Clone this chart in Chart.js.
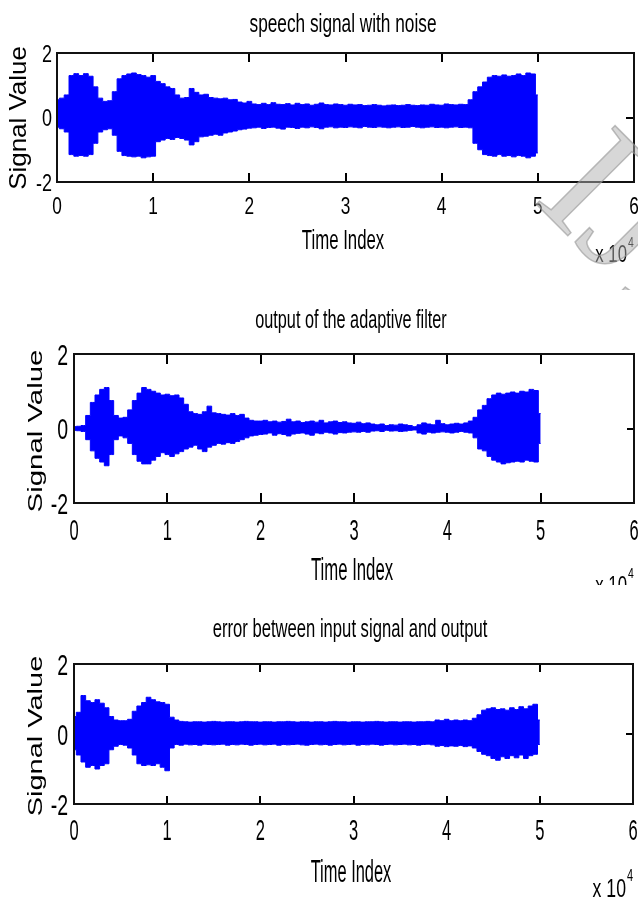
<!DOCTYPE html>
<html>
<head>
<meta charset="utf-8">
<script src="https://cdn.jsdelivr.net/npm/chart.js@4.4.1/dist/chart.umd.min.js"></script>
<style>
  html, body { margin: 0; padding: 0; background: #fff; }
  body { width: 638px; height: 899px; position: relative; overflow: hidden; }
  canvas { position: absolute; left: 0; }
</style>
</head>
<body>
<canvas id="speech" width="638" height="290" style="top:0px"></canvas>
<canvas id="output" width="638" height="295" style="top:290px"></canvas>
<canvas id="error" width="638" height="314" style="top:585px"></canvas>
<script>
// time index of every envelope sample (the signal runs to 5 x 10^4)
const timeIndex = [0,500,1000,1500,2000,2500,3000,3500,4000,4500,5000,5500,6000,6500,7000,7500,8000,8500,9000,9500,
  10000,10500,11000,11500,12000,12500,13000,13500,14000,14500,15000,15500,16000,16500,17000,17500,18000,18500,19000,19500,
  20000,20500,21000,21500,22000,22500,23000,23500,24000,24500,25000,25500,26000,26500,27000,27500,28000,28500,29000,29500,
  30000,30500,31000,31500,32000,32500,33000,33500,34000,34500,35000,35500,36000,36500,37000,37500,38000,38500,39000,39500,
  40000,40500,41000,41500,42000,42500,43000,43500,44000,44500,45000,45500,46000,46500,47000,47500,48000,48500,49000,49500,50000];

// envelopes (max / min)
const speechUpper = [0.55,0.6,0.7,1.3,1.36,1.3,1.36,1.28,0.95,0.6,0.5,
  0.52,0.8,1.2,1.3,1.35,1.38,1.33,1.3,1.25,1.3,
  1.12,1.05,0.95,0.9,0.7,0.6,0.62,0.9,0.78,0.7,
  0.72,0.62,0.6,0.58,0.6,0.55,0.56,0.48,0.45,0.5,
  0.42,0.4,0.44,0.4,0.46,0.41,0.4,0.43,0.39,0.44,
  0.4,0.42,0.38,0.41,0.45,0.4,0.39,0.42,0.4,0.38,
  0.41,0.39,0.4,0.37,0.38,0.4,0.38,0.36,0.38,0.39,
  0.37,0.38,0.4,0.38,0.37,0.39,0.38,0.41,0.39,0.38,
  0.42,0.4,0.39,0.41,0.4,
  0.55,0.8,0.95,1.1,1.25,1.3,1.28,1.32,1.28,1.3,1.35,1.3,1.38,1.35,0.7];
const speechLower = [-0.3,-0.35,-0.45,-1.15,-1.2,-1.18,-1.2,-1.15,-0.8,-0.45,-0.38,
  -0.35,-0.55,-1.05,-1.18,-1.2,-1.22,-1.2,-1.25,-1.22,-1.2,
  -0.75,-0.7,-0.65,-0.68,-0.62,-0.65,-0.7,-0.85,-0.75,-0.6,
  -0.58,-0.55,-0.52,-0.55,-0.48,-0.45,-0.42,-0.38,-0.36,-0.33,
  -0.32,-0.3,-0.34,-0.31,-0.3,-0.33,-0.36,-0.3,-0.31,-0.34,
  -0.3,-0.32,-0.29,-0.31,-0.35,-0.3,-0.29,-0.32,-0.3,-0.31,
  -0.29,-0.3,-0.32,-0.28,-0.3,-0.31,-0.29,-0.3,-0.32,-0.3,
  -0.29,-0.31,-0.3,-0.28,-0.3,-0.32,-0.3,-0.29,-0.31,-0.3,
  -0.32,-0.3,-0.29,-0.31,-0.3,
  -0.32,-0.8,-1.0,-1.15,-1.18,-1.2,-1.15,-1.2,-1.18,-1.22,-1.18,-1.2,-1.25,-1.2,-1.1];

const outputUpper = [0.05,0.06,0.08,0.35,0.7,0.9,1.05,1.1,0.75,0.35,0.28,
  0.3,0.5,0.75,0.95,1.1,1.05,1.0,0.95,0.9,0.92,
  0.88,0.9,0.82,0.65,0.45,0.4,0.38,0.45,0.6,0.42,
  0.4,0.38,0.36,0.4,0.35,0.38,0.28,0.22,0.2,0.2,
  0.22,0.18,0.2,0.17,0.19,0.25,0.18,0.2,0.16,0.18,
  0.2,0.17,0.22,0.15,0.18,0.2,0.16,0.18,0.15,0.14,
  0.17,0.13,0.15,0.12,0.1,0.12,0.08,0.1,0.09,0.12,
  0.1,0.08,0.05,0.1,0.15,0.12,0.1,0.22,0.13,0.1,
  0.12,0.14,0.12,0.15,0.2,
  0.3,0.5,0.62,0.8,0.9,0.95,0.92,0.95,0.98,0.95,1.0,0.98,1.05,1.02,0.4];
const outputLower = [-0.05,-0.06,-0.08,-0.3,-0.6,-0.8,-0.9,-1.0,-0.7,-0.3,-0.2,
  -0.25,-0.4,-0.7,-0.88,-0.95,-0.95,-0.85,-0.75,-0.65,-0.7,
  -0.75,-0.68,-0.62,-0.55,-0.5,-0.45,-0.55,-0.62,-0.5,-0.45,
  -0.4,-0.42,-0.38,-0.4,-0.35,-0.3,-0.25,-0.2,-0.18,-0.16,
  -0.15,-0.12,-0.18,-0.14,-0.16,-0.2,-0.15,-0.13,-0.12,-0.15,
  -0.18,-0.12,-0.14,-0.1,-0.12,-0.15,-0.11,-0.12,-0.1,-0.09,
  -0.1,-0.08,-0.1,-0.07,-0.06,-0.08,-0.05,-0.07,-0.06,-0.08,
  -0.07,-0.05,-0.04,-0.12,-0.15,-0.1,-0.12,-0.1,-0.09,-0.1,
  -0.12,-0.1,-0.08,-0.1,-0.12,
  -0.25,-0.55,-0.6,-0.75,-0.85,-0.9,-0.95,-0.92,-0.9,-0.88,-0.9,-0.85,-0.88,-0.9,-0.4];

const errorUpper = [0.5,0.62,1.1,0.95,0.9,0.98,0.88,0.75,0.5,0.4,0.38,
  0.38,0.42,0.65,0.8,0.9,1.05,0.98,0.92,0.9,0.85,
  0.48,0.4,0.36,0.35,0.34,0.35,0.35,0.34,0.35,0.36,
  0.35,0.34,0.35,0.35,0.34,0.35,0.36,0.35,0.35,0.34,
  0.35,0.35,0.34,0.35,0.35,0.36,0.35,0.34,0.35,0.35,
  0.34,0.35,0.35,0.34,0.35,0.36,0.35,0.35,0.34,0.35,
  0.35,0.34,0.35,0.35,0.36,0.35,0.34,0.35,0.35,0.34,
  0.35,0.35,0.34,0.35,0.35,0.36,0.35,
  0.4,0.38,0.42,0.38,0.4,0.38,0.4,0.38,
  0.45,0.55,0.68,0.72,0.75,0.7,0.72,0.68,0.75,0.7,0.78,0.72,0.8,0.85,0.4];
const errorLower = [-0.45,-0.6,-0.8,-0.95,-0.9,-1.0,-0.9,-0.85,-0.45,-0.35,-0.3,
  -0.32,-0.4,-0.6,-0.85,-0.9,-0.88,-0.9,-0.85,-0.95,-1.05,
  -0.4,-0.3,-0.32,-0.29,-0.31,-0.3,-0.32,-0.29,-0.3,-0.31,
  -0.3,-0.29,-0.32,-0.3,-0.31,-0.29,-0.3,-0.32,-0.3,-0.29,
  -0.31,-0.3,-0.29,-0.32,-0.3,-0.31,-0.3,-0.29,-0.31,-0.32,
  -0.3,-0.29,-0.31,-0.3,-0.32,-0.3,-0.29,-0.31,-0.3,-0.29,
  -0.32,-0.3,-0.31,-0.29,-0.3,-0.32,-0.3,-0.29,-0.31,-0.3,
  -0.29,-0.31,-0.3,-0.32,-0.3,-0.29,-0.31,
  -0.35,-0.33,-0.36,-0.34,-0.35,-0.33,-0.36,-0.34,
  -0.4,-0.5,-0.58,-0.62,-0.7,-0.75,-0.65,-0.7,-0.62,-0.68,-0.6,-0.7,-0.62,-0.58,-0.3];

const xTickLabels = [0, 1, 2, 3, 4, 5, 6]; // x 10^4
const yTickLabels = [-2, 0, 2];
const xScaleFactor = 10000;

const SANS = '"Liberation Sans", Arial, sans-serif';

function txt(ctx, s, x, y, size, sx, align, rot) {
  ctx.save();
  ctx.translate(x, y);
  if (rot) ctx.rotate(rot);
  ctx.scale(sx, 1);
  ctx.font = size + 'px ' + SANS;
  ctx.textAlign = align || 'center';
  ctx.textBaseline = 'alphabetic';
  ctx.fillStyle = '#000';
  ctx.fillText(s, 0, 0);
  ctx.restore();
}

// MATLAB-like box, inward ticks and labels
const matlabAxes = {
  id: 'matlabAxes',
  beforeDatasetsDraw(chart, args, o) {
    const { ctx, chartArea: a, scales: { x, y } } = chart;
    ctx.save();
    ctx.strokeStyle = '#000';
    ctx.lineWidth = 2;
    ctx.beginPath();
    xTickLabels.forEach((t) => {
      const px = Math.round(x.getPixelForValue(t * xScaleFactor));
      ctx.moveTo(px, a.top);
      ctx.lineTo(px, a.top + o.tick);
      ctx.moveTo(px, a.bottom);
      ctx.lineTo(px, a.bottom - o.tick);
    });
    yTickLabels.forEach((t) => {
      const py = Math.round(y.getPixelForValue(t));
      ctx.moveTo(a.left, py);
      ctx.lineTo(a.left + o.ytick, py);
      ctx.moveTo(a.right, py);
      ctx.lineTo(a.right - o.ytick, py);
    });
    ctx.stroke();
    ctx.restore();
  },
  afterDraw(chart, args, o) {
    const { ctx, chartArea: a, scales: { x, y } } = chart;
    ctx.save();
    ctx.strokeStyle = '#111';
    ctx.lineWidth = 2;
    ctx.strokeRect(a.left, a.top, a.right - a.left, a.bottom - a.top);
    ctx.restore();

    xTickLabels.forEach((t) => {
      txt(ctx, String(t), x.getPixelForValue(t * xScaleFactor), o.xtY, o.tickSize, o.xtSx, 'center');
    });
    yTickLabels.forEach((t) => {
      txt(ctx, String(t), a.left - o.ytPad, y.getPixelForValue(t) + 0.36 * o.tickSize, o.tickSize, o.ytSx, 'right');
    });
    txt(ctx, o.title, o.titleX, o.titleY, o.titleSize, o.titleSx, 'center');
    txt(ctx, 'Time Index', o.xlX, o.xlY, o.xlSize, o.xlSx, 'center');
    txt(ctx, 'Signal Value', o.ylX + 0.36 * o.ylSize, o.ylY, o.ylSize, o.ylSx, 'center', -Math.PI / 2);
    txt(ctx, 'x 10', o.expX, o.expY, o.expSize, o.expSx, 'right');
    txt(ctx, '4', o.expX + 1, o.expY - o.expSize * 0.62, o.expSize * 0.62, o.expSx, 'left');

    // grey journal watermark over the top panel's right edge
    if (o.mark) {
      ctx.save();
      ctx.translate(o.mark.x, o.mark.y);
      ctx.rotate(Math.PI / 4);
      ctx.font = o.mark.size + 'px "Liberation Serif", "Times New Roman", serif';
      ctx.textAlign = 'left';
      ctx.textBaseline = 'alphabetic';
      ctx.fillStyle = 'rgba(175,175,175,0.5)';
      ctx.fillText(o.mark.text, 0, 0);
      ctx.lineWidth = 1.5;
      ctx.strokeStyle = 'rgba(150,150,150,0.6)';
      ctx.strokeText(o.mark.text, 0, 0);
      ctx.restore();
    }
  }
};

function makeChart(id, upper, lower, pad, opts) {
  const toPts = (arr) => arr.map((v, i) => ({ x: timeIndex[i], y: v }));
  const line = { borderColor: '#0000ff', backgroundColor: '#0000ff', borderWidth: 1, pointRadius: 0, stepped: 'middle' };
  return new Chart(document.getElementById(id), {
    type: 'line',
    data: {
      datasets: [
        Object.assign({ data: toPts(upper), fill: '+1' }, line),
        Object.assign({ data: toPts(lower), fill: false }, line)
      ]
    },
    options: {
      responsive: false,
      animation: false,
      devicePixelRatio: 1,
      layout: { padding: pad },
      scales: {
        x: { type: 'linear', min: 0, max: 60000, display: false },
        y: { type: 'linear', min: -2, max: 2, display: false }
      },
      plugins: {
        legend: { display: false },
        tooltip: { enabled: false },
        matlabAxes: opts
      }
    },
    plugins: [matlabAxes]
  });
}

makeChart('speech', speechUpper, speechLower, { left: 57, right: 4, top: 53, bottom: 108 }, {
  title: 'speech signal with noise', titleX: 343, titleY: 32, titleSize: 25, titleSx: 0.69,
  tick: 9, ytick: 8, tickSize: 24, xtY: 214, xtSx: 0.72, ytPad: 5, ytSx: 0.75,
  xlX: 343, xlY: 249, xlSize: 28, xlSx: 0.6,
  ylX: 17, ylY: 118, ylSize: 24, ylSx: 1.08,
  expX: 627, expY: 262, expSize: 24, expSx: 0.7,
  mark: { text: 'IJERT', x: 532, y: 200, size: 170 }
});

makeChart('output', outputUpper, outputLower, { left: 74, right: 4, top: 64, bottom: 82 }, {
  title: 'output of the adaptive filter', titleX: 351, titleY: 38, titleSize: 25, titleSx: 0.65,
  tick: 10, ytick: 7, tickSize: 30, xtY: 250, xtSx: 0.55, ytPad: 6, ytSx: 0.65,
  xlX: 352, xlY: 290, xlSize: 31, xlSx: 0.54,
  ylX: 34, ylY: 141, ylSize: 21, ylSx: 1.4,
  expX: 627, expY: 303, expSize: 24, expSx: 0.7
});

makeChart('error', errorUpper, errorLower, { left: 74, right: 5, top: 79, bottom: 95 }, {
  title: 'error between input signal and output', titleX: 350, titleY: 52, titleSize: 26, titleSx: 0.64,
  tick: 8, ytick: 7, tickSize: 30, xtY: 255, xtSx: 0.55, ytPad: 6, ytSx: 0.65,
  xlX: 351, xlY: 297, xlSize: 31, xlSx: 0.53,
  ylX: 34, ylY: 151, ylSize: 21, ylSx: 1.38,
  expX: 626, expY: 312, expSize: 26, expSx: 0.68
});
</script>
</body>
</html>
